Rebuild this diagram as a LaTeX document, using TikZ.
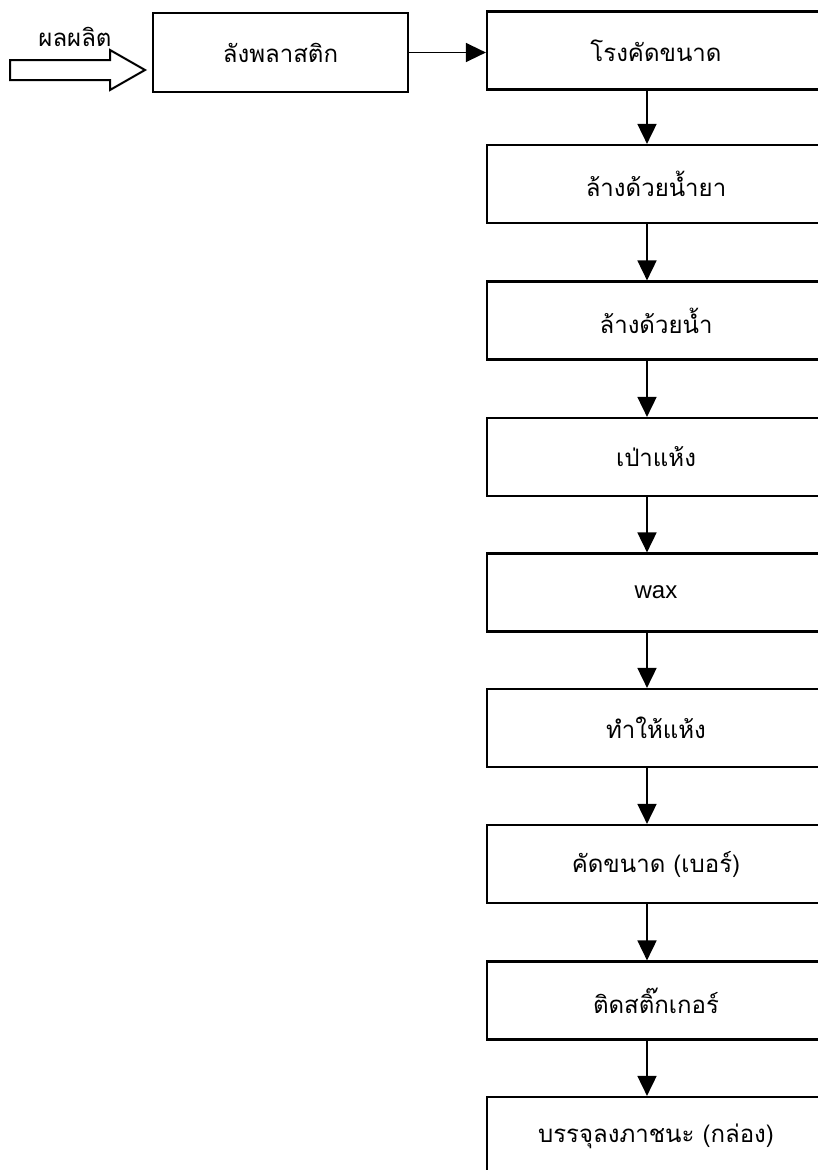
\documentclass[tikz,border=0pt]{standalone}
\usepackage{fontspec}
\setmainfont{Liberation Sans}
\newfontfamily\thaifont[Script=Thai]{Loma}
\usetikzlibrary{arrows.meta}
\tikzset{
  x=1pt, y=-1pt,
  procbox/.style={draw, line width=2.2pt, rectangle, minimum height=78pt, inner sep=0pt,
    font=\thaifont\fontsize{24}{28}\selectfont},
  colbox/.style={procbox, minimum width=338pt},
  flow/.style={draw, line width=1.8pt, -{Triangle[length=20pt, width=19pt]}},
  hollow/.style={draw, line width=2pt, fill=white, line join=miter},
  lbl/.style={font=\thaifont\fontsize{24}{28}\selectfont, inner sep=0pt}
}
\begin{document}
\begin{tikzpicture}
\useasboundingbox (0,0) rectangle (818,1170);
\clip (0,0) rectangle (818,1170);
\fill[white] (0,0) rectangle (818,1170);

% input label and hollow arrow
\node[lbl] (inlbl) at (75,37) {ผลผลิต};
\coordinate (intip) at (145,70);
\path[hollow] (10,60) -- (110,60) -- (110,50) -- (intip) -- (110,90) -- (110,80) -- (10,80) -- cycle;

% first box
\node[procbox, minimum width=255pt, minimum height=79pt] (crate) at (280.5,52.5) {ลังพลาสติก};

% right column
\node[colbox] (b1) at (656,50.5) {โรงคัดขนาด};
\node[colbox] (b2) at (656,184) {ล้างด้วยน้ำยา};
\node[colbox] (b3) at (656,320.5) {ล้างด้วยน้ำ};
\node[colbox] (b4) at (656,457) {เป่าแห้ง};
\node[colbox] (b5) at (656,592.5) {\rmfamily wax};
\node[colbox] (b6) at (656,728) {ทำให้แห้ง};
\node[colbox] (b7) at (656,864) {คัดขนาด (เบอร์)};
\node[colbox] (b8) at (656,1000.5) {ติดสติ๊กเกอร์};
\node[colbox] (b9) at (656,1136) {บรรจุลงภาชนะ (กล่อง)};

% connectors
\draw[flow, line width=1.4pt] (crate.east) -- (crate.east -| b1.west);
\foreach \a/\b in {b1/b2,b2/b3,b3/b4,b4/b5,b5/b6,b6/b7,b7/b8,b8/b9}{
  \draw[flow] ([xshift=-9pt]\a.south) -- ([xshift=-9pt]\b.north);
}
\end{tikzpicture}
\end{document}
